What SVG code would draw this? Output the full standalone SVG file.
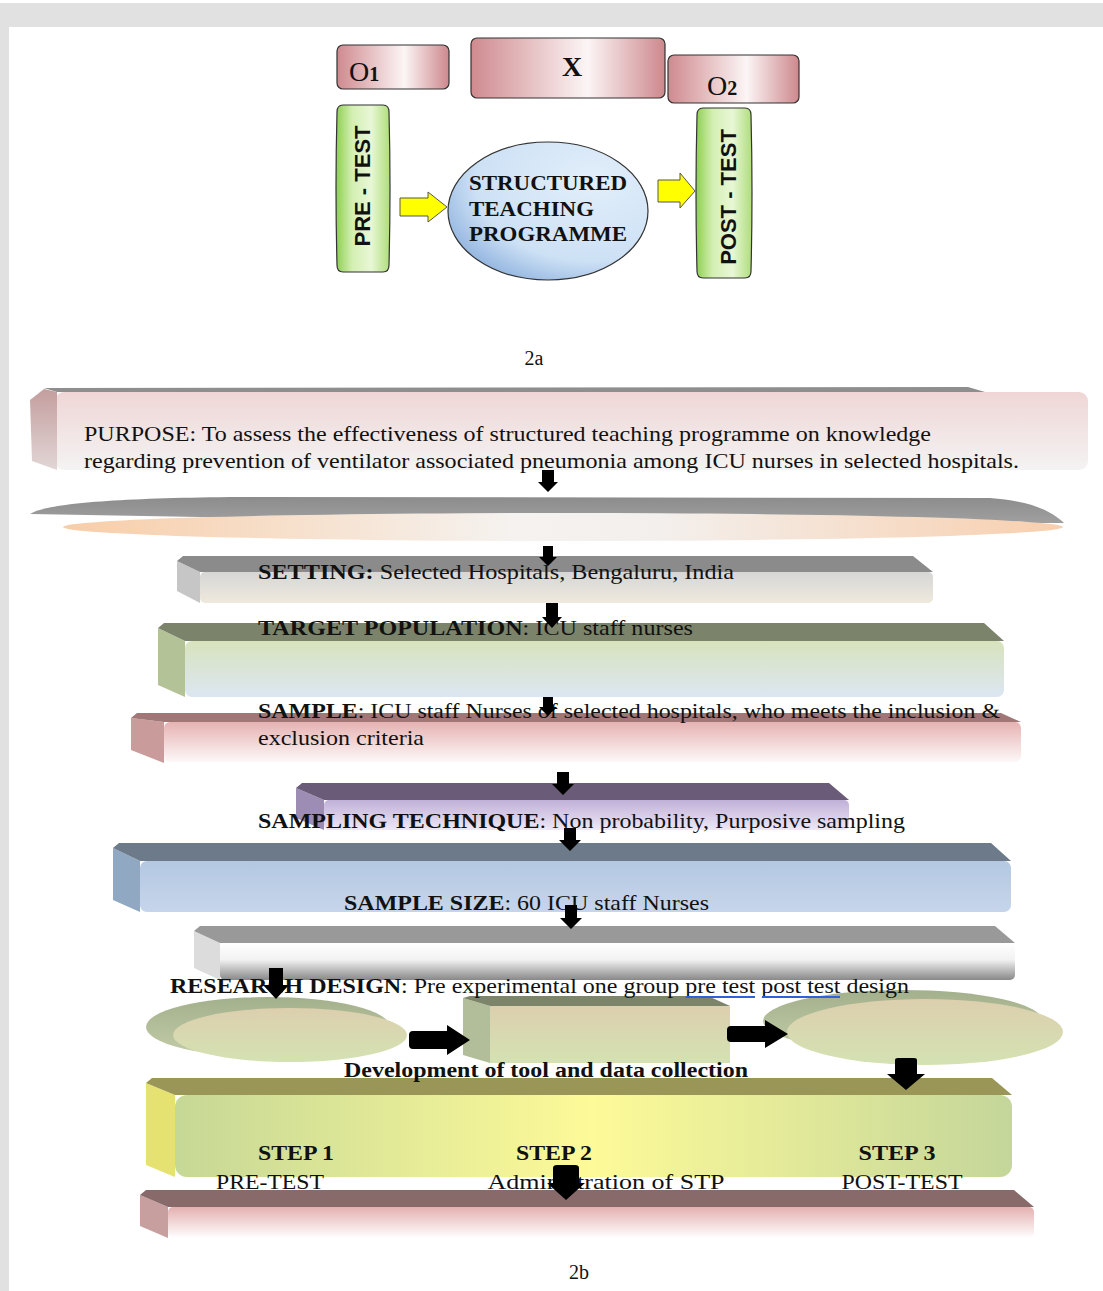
<svg xmlns="http://www.w3.org/2000/svg" width="1103" height="1291" viewBox="0 0 1103 1291">
<defs>
<style>
.t{font-family:"Liberation Serif","Times New Roman",serif;fill:#111;font-size:21px}
.l{font-size:22px}
.b{font-weight:bold}
.ob{stroke:#333;stroke-width:1.2}
.blk{fill:#000}
.ya{fill:#ffff00;stroke:#555;stroke-width:1}
</style>
<linearGradient id="gO" x1="0" y1="0" x2="1" y2="0"><stop offset="0" stop-color="#cf8a8f"/><stop offset="0.6" stop-color="#fcf5f5"/><stop offset="1" stop-color="#cd888d"/></linearGradient>
<linearGradient id="gG" x1="0" y1="0" x2="1" y2="0"><stop offset="0" stop-color="#8dcf52"/><stop offset="0.3" stop-color="#d4efb2"/><stop offset="0.65" stop-color="#e8f7d6"/><stop offset="1" stop-color="#aedd7a"/></linearGradient>
<radialGradient id="gB" cx="0.72" cy="0.28" r="0.9"><stop offset="0" stop-color="#e2eefa"/><stop offset="0.65" stop-color="#cde1f5"/><stop offset="1" stop-color="#7fa6d8"/></radialGradient>
<linearGradient id="gPur" x1="0" y1="0" x2="0" y2="1"><stop offset="0" stop-color="#efd6d6"/><stop offset="1" stop-color="#f4f3f3"/></linearGradient>
<linearGradient id="gPurL" x1="0" y1="0" x2="0" y2="1"><stop offset="0" stop-color="#c49e9e"/><stop offset="1" stop-color="#e2d6d6"/></linearGradient>
<linearGradient id="gPeach" x1="0" y1="0" x2="1" y2="0"><stop offset="0" stop-color="#f8cda8"/><stop offset="0.45" stop-color="#f5f2ef"/><stop offset="0.6" stop-color="#f3efec"/><stop offset="1" stop-color="#f8cfae"/></linearGradient>
<linearGradient id="gDiskTop" x1="0" y1="0" x2="0" y2="1"><stop offset="0" stop-color="#8c8c8c"/><stop offset="1" stop-color="#a0a0a0"/></linearGradient>
<linearGradient id="gSet" x1="0" y1="0" x2="0" y2="1"><stop offset="0" stop-color="#d6d6d6"/><stop offset="1" stop-color="#efe9dd"/></linearGradient>
<linearGradient id="gTar" x1="0" y1="0" x2="0" y2="1"><stop offset="0" stop-color="#d8e3bc"/><stop offset="1" stop-color="#dce6f3"/></linearGradient>
<linearGradient id="gSam" x1="0" y1="0" x2="0" y2="1"><stop offset="0" stop-color="#e6b2b2"/><stop offset="1" stop-color="#fdf8f8"/></linearGradient>
<linearGradient id="gTec" x1="0" y1="0" x2="0" y2="1"><stop offset="0" stop-color="#c0b0d8"/><stop offset="1" stop-color="#eee8f6"/></linearGradient>
<linearGradient id="gSiz" x1="0" y1="0" x2="0" y2="1"><stop offset="0" stop-color="#b4c8e2"/><stop offset="1" stop-color="#c6d5eb"/></linearGradient>
<linearGradient id="gRes" x1="0" y1="0" x2="0" y2="1"><stop offset="0" stop-color="#ffffff"/><stop offset="0.45" stop-color="#f2f2f2"/><stop offset="1" stop-color="#888888"/></linearGradient>
<linearGradient id="gStep" x1="0" y1="0" x2="1" y2="0"><stop offset="0" stop-color="#c6d896"/><stop offset="0.5" stop-color="#fdfa98"/><stop offset="1" stop-color="#c4d69a"/></linearGradient>
<linearGradient id="gBot" x1="0" y1="0" x2="0" y2="1"><stop offset="0" stop-color="#e4b0b0"/><stop offset="1" stop-color="#ffffff"/></linearGradient>
<linearGradient id="gFace" x1="0" y1="0" x2="0" y2="1"><stop offset="0" stop-color="#dccfae"/><stop offset="1" stop-color="#d4e2b2"/></linearGradient>
<linearGradient id="gShell" x1="0" y1="0" x2="0" y2="1"><stop offset="0" stop-color="#a3b08c"/><stop offset="1" stop-color="#c3cda8"/></linearGradient>
</defs>

<rect x="0" y="0" width="1103" height="1291" fill="#ffffff"/>
<rect x="0" y="3" width="1103" height="24" fill="#e1e1e1"/>
<rect x="0" y="3" width="9" height="1288" fill="#e1e1e1"/>

<!-- 2a -->
<g id="o1"><rect class="ob" x="337" y="45" width="112" height="44" rx="6" fill="url(#gO)"/><text class="t" x="349" y="81" style="font-size:28px">O<tspan style="font-size:20px;font-weight:bold">1</tspan></text></g>
<g id="x"><rect class="ob" x="471" y="38" width="194" height="60" rx="6" fill="url(#gO)"/><text class="t b" x="572" y="76" style="font-size:28px" text-anchor="middle">X</text></g>
<g id="o2"><rect class="ob" x="668" y="55" width="131" height="48" rx="6" fill="url(#gO)"/><text class="t" x="707" y="95" style="font-size:28px">O<tspan style="font-size:20px;font-weight:bold">2</tspan></text></g>
<g id="pretest"><path class="ob" d="M343,105 H383 Q389,105 389,112 Q391,188 389,265 Q389,272 383,272 H343 Q337,272 337,265 Q335,188 337,112 Q337,105 343,105 Z" fill="url(#gG)"/><text x="0" y="0" transform="translate(370,186) rotate(-90)" text-anchor="middle" font-family="Liberation Sans,Arial,sans-serif" font-weight="bold" font-size="22" fill="#111">PRE - TEST</text></g>
<g id="stp"><ellipse class="ob" cx="548" cy="211" rx="100" ry="69" fill="url(#gB)"/><text class="t b" x="469" y="190" style="font-size:22px" textLength="158" lengthAdjust="spacingAndGlyphs">STRUCTURED</text><text class="t b" x="469" y="216" style="font-size:22px" textLength="125" lengthAdjust="spacingAndGlyphs">TEACHING</text><text class="t b" x="469" y="241" style="font-size:22px" textLength="158" lengthAdjust="spacingAndGlyphs">PROGRAMME</text></g>
<g id="posttest"><path class="ob" d="M703,108 H745 Q751,108 751,115 Q753,193 751,271 Q751,278 745,278 H703 Q697,278 697,271 Q695,193 697,115 Q697,108 703,108 Z" fill="url(#gG)"/><text x="0" y="0" transform="translate(736,197) rotate(-90)" text-anchor="middle" font-family="Liberation Sans,Arial,sans-serif" font-weight="bold" font-size="22" fill="#111">POST - TEST</text></g>
<g id="label-2a"><text class="t" x="534" y="365" style="font-size:20px" text-anchor="middle">2a</text></g>

<!-- 2b -->
<g id="purpose">
<rect x="55" y="392" width="1033" height="78" rx="9" fill="url(#gPur)"/>
<polygon points="30,400 44,389 57,392 57,470 32,461" fill="url(#gPurL)"/>
<polygon points="44,388 968,387 985,392 57,392" fill="#8e8e8e"/>
<text class="t" x="84" y="441" textLength="847" lengthAdjust="spacingAndGlyphs">PURPOSE: To assess the effectiveness of structured teaching programme on knowledge</text>
<text class="t" x="84" y="468" textLength="935" lengthAdjust="spacingAndGlyphs">regarding prevention of ventilator associated pneumonia among ICU nurses in selected hospitals.</text>
</g>
<g id="disk">
<path d="M30,514 C45,504 110,498 240,497 L990,498 C1030,501 1050,510 1064,523 L540,523 Z" fill="url(#gDiskTop)"/>
<ellipse cx="563" cy="527" rx="500" ry="14" fill="url(#gPeach)"/>
</g>
<g id="setting">
<rect x="200" y="572" width="733" height="31" rx="5" fill="url(#gSet)"/>
<polygon points="177,561 200,572 200,603 177,591" fill="#c6c6c6"/>
<polygon points="183,556 913,556 933,572 200,572 177,561" fill="#8b8b8b"/>
<text class="t l" x="258" y="579" textLength="476" lengthAdjust="spacingAndGlyphs"><tspan class="b">SETTING:</tspan>  Selected Hospitals, Bengaluru, India</text>
</g>
<g id="target">
<rect x="185" y="641" width="819" height="56" rx="7" fill="url(#gTar)"/>
<polygon points="158,628 185,641 185,697 158,685" fill="#b4c298"/>
<polygon points="164,623 984,623 1004,641 185,641 158,628" fill="#7b846a"/>
<text class="t l" x="258" y="635" textLength="435" lengthAdjust="spacingAndGlyphs"><tspan class="b">TARGET POPULATION</tspan>: ICU staff nurses</text>
</g>
<g id="sample">
<rect x="164" y="722" width="857" height="40" rx="6" fill="url(#gSam)"/>
<polygon points="131,718 164,722 164,763 131,750" fill="#c99b9b"/>
<polygon points="137,713 1001,713 1021,722 164,722 131,718" fill="#a07676"/>
<text class="t l" x="258" y="718" textLength="742" lengthAdjust="spacingAndGlyphs"><tspan class="b">SAMPLE</tspan>: ICU staff Nurses of selected hospitals, who meets the inclusion &amp;</text>
<text class="t l" x="258" y="745" textLength="166" lengthAdjust="spacingAndGlyphs">exclusion criteria</text>
</g>
<g id="sampling">
<rect x="324" y="800" width="525" height="30" rx="5" fill="url(#gTec)"/>
<polygon points="296,788 324,800 324,830 296,818" fill="#9d8db4"/>
<polygon points="302,783 829,783 849,800 324,800 296,788" fill="#6a5c78"/>
<text class="t l" x="258" y="828" textLength="647" lengthAdjust="spacingAndGlyphs"><tspan class="b">SAMPLING TECHNIQUE</tspan>: Non probability, Purposive sampling</text>
</g>
<g id="size">
<rect x="140" y="861" width="871" height="51" rx="7" fill="url(#gSiz)"/>
<polygon points="113,848 140,861 140,912 113,900" fill="#90a8c2"/>
<polygon points="119,843 991,843 1011,861 140,861 113,848" fill="#6c7a8a"/>
<text class="t l" x="344" y="910" textLength="365" lengthAdjust="spacingAndGlyphs"><tspan class="b">SAMPLE SIZE</tspan>: 60 ICU staff Nurses</text>
</g>
<g id="research">
<rect x="220" y="943" width="795" height="37" rx="5" fill="url(#gRes)"/>
<polygon points="194,931 220,943 220,980 194,968" fill="#dcdcdc"/>
<polygon points="200,926 995,926 1015,943 220,943 194,931" fill="#999999"/>
</g>
<g id="stage-left">
<ellipse cx="268" cy="1027" rx="122" ry="30" fill="url(#gShell)"/>
<ellipse cx="290" cy="1035" rx="117" ry="27" fill="url(#gFace)"/>
</g>
<g id="stage-mid">
<rect x="490" y="1006" width="240" height="57" fill="url(#gFace)"/>
<polygon points="463,998 490,1006 490,1063 463,1055" fill="#b2be9a"/>
<polygon points="470,996 708,996 730,1006 490,1006 463,998" fill="#7c846a"/>
</g>
<g id="stage-right">
<ellipse cx="903" cy="1021" rx="140" ry="31" fill="url(#gShell)"/>
<ellipse cx="925" cy="1032" rx="138" ry="33" fill="url(#gFace)"/>
</g>
<g id="research-text">
<text class="t l" x="170" y="993" textLength="739" lengthAdjust="spacingAndGlyphs"><tspan class="b">RESEARCH DESIGN</tspan>: Pre experimental one group pre test post test design</text>
<line x1="686" y1="997" x2="755" y2="997" stroke="#2f62d8" stroke-width="2"/>
<line x1="762" y1="997" x2="840" y2="997" stroke="#2f62d8" stroke-width="2"/>
</g>
<g id="steps">
<rect x="175" y="1095" width="837" height="82" rx="12" fill="url(#gStep)"/>
<polygon points="146,1083 175,1095 175,1177 146,1165" fill="#e6e272"/>
<polygon points="152,1078 992,1078 1012,1095 175,1095 146,1083" fill="#9a9658"/>
<text class="t l b" x="344" y="1077" textLength="404" lengthAdjust="spacingAndGlyphs">Development of tool and data collection</text>
<text class="t l b" x="296" y="1160" text-anchor="middle" textLength="76" lengthAdjust="spacingAndGlyphs">STEP 1</text>
<text class="t l" x="270" y="1189" text-anchor="middle" textLength="108" lengthAdjust="spacingAndGlyphs">PRE-TEST</text>
<text class="t l b" x="554" y="1160" text-anchor="middle" textLength="76" lengthAdjust="spacingAndGlyphs">STEP 2</text>
<text class="t l" x="606" y="1189" text-anchor="middle" textLength="237" lengthAdjust="spacingAndGlyphs">Administration of STP</text>
<text class="t l b" x="897" y="1160" text-anchor="middle" textLength="77" lengthAdjust="spacingAndGlyphs">STEP 3</text>
<text class="t l" x="902" y="1189" text-anchor="middle" textLength="121" lengthAdjust="spacingAndGlyphs">POST-TEST</text>
</g>
<g id="bottom">
<rect x="168" y="1207" width="866" height="31" rx="5" fill="url(#gBot)"/>
<polygon points="140,1195 168,1207 168,1238 140,1226" fill="#c89f9f"/>
<polygon points="146,1190 1014,1190 1034,1207 168,1207 140,1195" fill="#886a6a"/>
</g>
<g id="label-2b"><text class="t" x="579" y="1279" style="font-size:20px" text-anchor="middle">2b</text></g>

<g id="connectors">
<path class="ya" d="M400,198 H428 V192 L447,207 L428,222 V216 H400 Z"/>
<path class="ya" d="M658,180 H680 V173 L695,191 L680,208 V202 H658 Z"/>
<path class="blk" d="M542,470 H554 V482 H558 L548,492 L538,482 H542 Z"/>
<path class="blk" d="M543,546 H553 V557 H557 L548,566 L539,557 H543 Z"/>
<path class="blk" d="M546,603 H558 V617 H562 L552,628 L542,617 H546 Z"/>
<path class="blk" d="M543,697 H553 V707 H557 L548,716 L539,707 H543 Z"/>
<path class="blk" d="M557,772 H569 V784 H574 L563,795 L552,784 H557 Z"/>
<path class="blk" d="M564,828 H576 V840 H581 L570,851 L559,840 H564 Z"/>
<path class="blk" d="M565,905 H577 V918 H582 L571,929 L560,918 H565 Z"/>
<path class="blk" d="M269,968 H283 V985 H289 L276,999 L263,985 H269 Z"/>
<path class="blk" d="M413,1031 H447 V1025 L470,1040 L447,1055 V1049 H413 Q409,1049 409,1045 V1035 Q409,1031 413,1031 Z"/>
<path class="blk" d="M731,1026 H765 V1020 L788,1034 L765,1048 V1042 H731 Q727,1042 727,1038 V1030 Q727,1026 731,1026 Z"/>
<path class="blk" d="M895,1060 Q895,1058 898,1058 H914 Q917,1058 917,1060 V1074 H925 L906,1090 L887,1074 H895 Z"/>
<path class="blk" d="M553,1168 Q553,1165 557,1165 H575 Q579,1165 579,1168 V1183 H585 L566,1200 L547,1183 H553 Z"/>
</g>
</svg>
